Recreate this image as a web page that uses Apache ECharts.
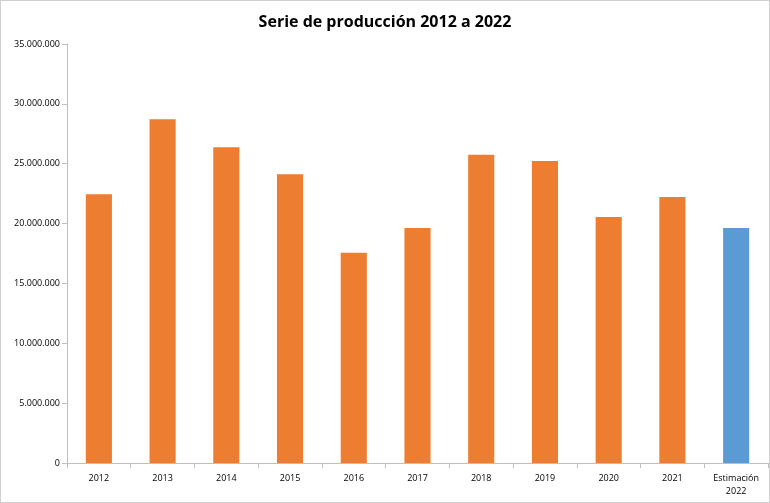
<!DOCTYPE html>
<html>
<head>
<meta charset="utf-8">
<script src="https://cdn.jsdelivr.net/npm/echarts@6/dist/echarts.min.js"></script>
<style>
  html, body { margin: 0; padding: 0; background: #fff; }
  #main { width: 768px; height: 501px; border: 1px solid #d0d0d0; }
</style>
</head>
<body>
<div id="main"></div>
<script>
// datos
var categories = ['2012', '2013', '2014', '2015', '2016', '2017', '2018', '2019', '2020', '2021', 'Estimación\n2022'];
var production = [22450000, 28720000, 26380000, 24130000, 17560000, 19640000, 25740000, 25220000, 20550000, 22230000, 19640000];
var yTicks = [0, 5000000, 10000000, 15000000, 20000000, 25000000, 30000000, 35000000];

function fmt(v) {
  return String(v).replace(/\B(?=(\d{3})+(?!\d))/g, '.');
}

var myChart = echarts.init(document.getElementById('main'));
myChart.setOption({
  animation: false,
  title: {
    text: 'Serie de producción 2012 a 2022',
    left: 'center',
    top: 8,
    textStyle: { fontFamily: 'Open Sans', fontSize: 16, fontWeight: 'bold', color: '#000' }
  },
  grid: { left: 66, right: 1, top: 43, bottom: 39 },
  xAxis: {
    type: 'category',
    data: categories,
    axisLine: { lineStyle: { color: '#bfbfbf' } },
    axisTick: { show: true, lineStyle: { color: '#bfbfbf' }, length: 5 },
    axisLabel: { color: '#000', fontFamily: 'Open Sans', fontSize: 9, margin: 9, lineHeight: 13 }
  },
  yAxis: {
    type: 'value',
    min: yTicks[0],
    max: yTicks[yTicks.length - 1],
    interval: 5000000,
    splitLine: { show: false },
    axisLine: { show: true, lineStyle: { color: '#bfbfbf' } },
    axisTick: { show: true, lineStyle: { color: '#bfbfbf' }, length: 5 },
    axisLabel: { color: '#000', fontFamily: 'Open Sans', fontSize: 9, margin: 7, formatter: fmt }
  },
  series: [{
    type: 'bar',
    barCategoryGap: '59%',
    data: production.map(function (v, i) {
      return { value: v, itemStyle: { color: i === production.length - 1 ? '#5b9bd5' : '#ed7d31' } };
    })
  }]
});
</script>
</body>
</html>
